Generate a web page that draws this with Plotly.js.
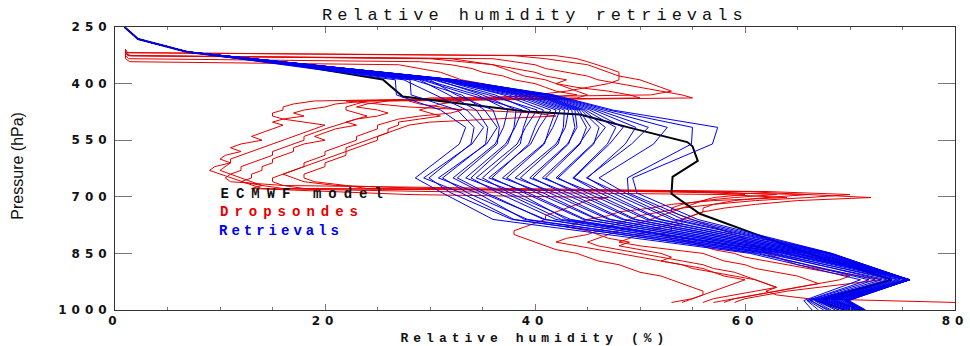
<!DOCTYPE html>
<html>
<head>
<meta charset="utf-8">
<script src="https://cdn.plot.ly/plotly-3.0.1.min.js"></script>
<style>
  html, body { margin: 0; padding: 0; background: #fff; }
  #chart { width: 970px; height: 346px; }
  .xtick text, .ytick text { letter-spacing: 5px; }
  g.annotation[data-index="0"] text { letter-spacing: 5px; }
  g.annotation[data-index="1"] text { letter-spacing: 5px; }
  g.annotation[data-index="2"] text { letter-spacing: 7px; }
  g.annotation[data-index="3"] text { letter-spacing: 6px; }
  g.annotation[data-index="4"] text { letter-spacing: 4px; }
  g.annotation[data-index="5"] text { letter-spacing: 0px; }
</style>
</head>
<body>
<div id="chart"></div>
<script>
// ---------- ECMWF model profile ----------
const ecmwfP  = [250, 282, 316, 350, 389, 434, 474, 482, 516, 555, 566, 605, 647, 692, 745, 810, 850, 920, 975, 1000];
const ecmwfRH = [0.9, 2.2, 6.9, 17.0, 25.5, 27.4, 39.2, 44.3, 48.9, 54.5, 55.0, 55.5, 53.1, 53.0, 55.7, 62.2, 66.0, 74.0, 67.0, 69.5];

// ---------- Retrieval pressure levels ----------
const retLevels = [250, 282, 316, 390, 430, 470, 516, 560, 650, 690, 760, 850, 920, 975, 1000];

// ---------- Retrieval profiles (RH %) ----------
const ret01 = [0.9, 2.2, 6.9, 26.7, 26.8, 31.0, 33.4, 32.8, 28.6, 31.2, 36.0, 60.5, 71.0, 65.6, 66.4];
const ret02 = [0.9, 2.2, 6.9, 28.1, 28.2, 32.6, 34.2, 33.9, 29.9, 32.0, 37.8, 61.4, 71.8, 65.9, 67.0];
const ret03 = [0.9, 2.2, 6.9, 27.5, 30.5, 33.5, 35.1, 34.0, 29.4, 33.0, 38.0, 61.0, 72.4, 66.0, 67.5];
const ret04 = [0.9, 2.2, 6.9, 29.0, 31.8, 34.4, 35.5, 35.3, 31.2, 33.6, 39.3, 62.4, 73.0, 66.3, 67.8];
const ret05 = [0.9, 2.2, 6.9, 28.4, 33.0, 35.2, 36.4, 35.4, 30.8, 34.5, 39.0, 62.0, 73.5, 66.6, 68.2];
const ret06 = [0.9, 2.2, 6.9, 30.0, 32.5, 36.0, 36.6, 36.4, 32.6, 35.4, 40.8, 63.0, 74.0, 66.2, 68.0];
const ret07 = [0.9, 2.2, 6.9, 29.5, 34.5, 37.4, 37.0, 36.2, 32.2, 35.0, 41.0, 62.6, 74.5, 66.8, 68.6];
const ret08 = [0.9, 2.2, 6.9, 30.6, 35.0, 38.2, 38.0, 37.4, 33.9, 36.5, 42.0, 63.5, 74.8, 67.0, 68.9];
const ret09 = [0.9, 2.2, 6.9, 29.2, 33.8, 38.8, 38.1, 37.2, 33.4, 37.2, 42.5, 63.8, 75.2, 66.7, 69.0];
const ret10 = [0.9, 2.2, 6.9, 31.0, 36.2, 39.5, 38.9, 38.6, 35.0, 37.6, 43.4, 64.2, 75.5, 67.2, 69.4];
const ret11 = [0.9, 2.2, 6.9, 30.3, 35.6, 40.2, 39.1, 38.3, 34.4, 38.4, 43.0, 63.9, 75.6, 67.4, 69.6];
const ret12 = [0.9, 2.2, 6.9, 31.4, 37.0, 40.8, 40.0, 39.4, 35.9, 39.0, 44.6, 64.6, 75.7, 67.0, 69.8];
const ret13 = [0.9, 2.2, 6.9, 30.8, 37.5, 41.5, 40.4, 39.6, 35.6, 39.4, 44.8, 64.8, 75.7, 67.5, 70.0];
const ret14 = [0.9, 2.2, 6.9, 31.2, 38.0, 42.0, 41.4, 40.9, 37.3, 40.2, 45.9, 65.2, 75.6, 67.6, 70.1];
const ret15 = [0.9, 2.2, 6.9, 31.6, 38.4, 42.4, 41.7, 40.8, 36.9, 40.8, 46.0, 65.0, 75.7, 67.8, 70.3];
const ret16 = [0.9, 2.2, 6.9, 31.0, 38.8, 42.8, 42.7, 42.2, 38.6, 41.4, 47.0, 65.6, 75.5, 67.7, 70.4];
const ret17 = [0.9, 2.2, 6.9, 31.8, 39.0, 43.2, 42.9, 42.0, 38.1, 42.0, 47.2, 65.7, 75.7, 68.0, 70.6];
const ret18 = [0.9, 2.2, 6.9, 31.5, 39.4, 43.5, 43.8, 43.2, 39.8, 42.6, 48.3, 66.1, 75.6, 68.2, 70.7];
const ret19 = [0.9, 2.2, 6.9, 32.0, 39.8, 43.8, 44.0, 43.1, 39.5, 43.2, 48.5, 66.3, 75.7, 68.3, 70.8];
const ret20 = [0.9, 2.2, 6.9, 31.9, 40.0, 44.0, 44.9, 44.3, 41.0, 43.8, 49.4, 66.6, 75.6, 68.5, 70.9];
const ret21 = [0.9, 2.2, 6.9, 32.1, 40.2, 44.2, 45.3, 44.2, 40.7, 44.4, 49.6, 66.7, 75.7, 68.6, 71.0];
const ret22 = [0.9, 2.2, 6.9, 31.7, 40.4, 44.4, 46.1, 45.6, 42.2, 45.0, 50.6, 67.0, 75.6, 68.8, 71.0];
const ret23 = [0.9, 2.2, 6.9, 32.2, 40.6, 44.6, 46.7, 45.5, 42.0, 45.6, 50.9, 67.1, 75.7, 69.0, 71.1];
const ret24 = [0.9, 2.2, 6.9, 32.0, 40.8, 44.8, 47.7, 46.9, 43.6, 46.2, 51.8, 67.4, 75.6, 69.2, 71.2];
const ret25 = [0.9, 2.2, 6.9, 32.3, 41.0, 45.2, 48.4, 47.1, 43.7, 46.8, 52.0, 67.6, 75.7, 69.4, 71.2];
const ret26 = [0.9, 2.2, 6.9, 32.0, 41.2, 45.6, 49.6, 48.6, 45.0, 47.4, 53.0, 67.8, 75.6, 69.5, 71.3];
const ret27 = [0.9, 2.2, 6.9, 32.4, 41.4, 46.0, 50.8, 49.2, 44.9, 48.0, 53.4, 68.0, 75.7, 69.6, 71.3];
const ret28 = [0.9, 2.2, 6.9, 32.2, 41.5, 46.5, 52.6, 51.3, 46.1, 48.6, 54.1, 68.1, 75.6, 69.7, 71.4];
const ret29 = [0.9, 2.2, 6.9, 32.5, 41.6, 47.0, 55.0, 54.9, 48.8, 48.9, 54.8, 68.2, 75.7, 69.8, 71.4];
const ret30 = [0.9, 2.2, 6.9, 32.4, 41.8, 47.4, 57.4, 56.9, 49.3, 49.7, 55.5, 68.3, 75.6, 69.9, 71.5];

// ---------- Dropsonde pressure grid (hPa) ----------
const sondeP = [310, 318, 326, 334, 342, 350, 360, 370, 380, 390, 400, 410, 420, 430,
  438, 446, 454, 462, 470, 478, 486, 494, 502, 510,
  520, 530, 540, 550, 560, 570, 580, 590, 600, 610, 620, 630, 640, 650, 660, 670,
  678, 686, 694, 702, 710,
  720, 730, 740, 750, 760, 770, 780, 790, 800, 810, 820, 830, 840, 850, 860, 870,
  880, 890, 900, 910, 920, 930, 940, 950, 960, 970, 980];

// ---------- Dropsonde RH profiles (%) ----------
const ds1RH = [1, 1, 1.2, 30, 33, 36,
  38, 40, 41, 43, 42, 44, 47, 49,
  50, 24, 21, 20, 18, 17, 18, 16, 15, 16,
  15, 14, 13, 14, 12, 11, 12, 10.5, 10, 11, 9.5, 9, 10, 11, 12, 13,
  14, 30, 58, 64, 57,
  53, 51, 48, 47, 45, 44, 43, 45, 46, 47, 49, 48, 50, 52, 53, 52,
  54, 56, 57, 58, 60, 59, 58, 57, 56, 55, 54];
const ds2RH = [1, 1, 1.5, 36, 38, 40,
  41, 43, 45, 46, 48, 50, 52, 54,
  55, 26, 24, 23, 25, 26, 25, 23, 22, 23,
  21, 20, 19, 20, 18, 17, 17, 16, 15, 15, 14, 14, 13, 13, 12, 14,
  16, 62, 70, 66, 61,
  57, 54, 52, 50, 49, 48, 47, 46, 45, 43, 42, 44, 46, 48, 50, 52,
  54, 55, 57, 59, 61, 62, 63, 61, 59, 57, 56];
const ds3RH = [1, 1, 1, 1.3, 29, 32,
  34, 35, 37, 38, 40, 41, 42, 44,
  40, 22, 25, 28, 34, 40, 42, 36, 30, 28,
  27, 26, 25, 24, 23, 22, 22, 21, 20, 19, 18, 17, 16, 17, 18, 21,
  30, 50, 66, 72, 65,
  61, 58, 56, 55, 54, 53, 52, 51, 50, 49, 48, 50, 53, 56, 57, 58,
  60, 61, 63, 65, 66, 67, 65, 63, 61, 59, 57];
const ds4RH = [1, 1.1, 42, 44, 45, 46,
  47, 48, 48, 50, 51, 52, 53, 51,
  30, 28, 29, 31, 33, 32, 29, 27, 26, 25,
  25, 24, 23, 23, 22, 21, 20, 20, 19, 18, 18, 17, 16, 15, 15, 16,
  18, 55, 60, 57, 56,
  55, 54, 53, 52, 51, 50, 49, 48, 47, 46, 45, 46, 48, 50, 52, 54,
  56, 57, 59, 60, 61, 62, 63, 62, 63, 66, 80];
const ds5RH = [1, 1, 1, 1, 1.4, 27,
  29, 31, 32, 33, 35, 37, 39, 40,
  36, 19, 17, 16, 16, 15, 15, 16, 18, 20,
  19, 18, 17, 16, 15, 14, 13, 12, 11, 11, 10.5, 10, 11, 12, 13, 14,
  13, 20, 28, 47, 45,
  44, 43, 42, 41, 41, 40, 39, 38, 38, 39, 40, 41, 42, 44, 45, 46,
  48, 49, 50, 52, 53, 54, 55, 56, 56, 55, 53];
const ds6RH = [1, 1.2, 38, 41, 43, 45,
  46, 47, 48, 48, 47, 45, 43, 40,
  36, 33, 31, 30, 29, 30, 31, 29, 27, 27,
  26, 26, 25, 25, 24, 23, 22, 22, 21, 20, 20, 19, 18, 18, 19, 22,
  24, 56, 63, 59, 56,
  54, 53, 53, 54, 55, 56, 57, 58, 59, 60, 60, 61, 62, 62, 63, 64,
  65, 67, 69, 71, 73, 70, 67, 64, 62, 60, 59];
const ds7RH = [1, 1, 1.3, 32, 34, 36,
  37, 38, 39, 41, 42, 43, 44, 45,
  44, 24, 23, 22, 22, 23, 24, 23, 22, 21,
  20, 19, 18, 18, 17, 16, 15, 15, 14, 13, 12, 12, 11, 10.5, 11, 16,
  40, 60, 66, 62, 59,
  57, 56, 56, 55, 54, 54, 53, 53, 52, 53, 55, 56, 57, 59, 60, 62,
  64, 66, 68, 70, 69, 67, 65, 63, 61, 59, 58];

// ---------- Axis ticks ----------
const xTicks = [0, 20, 40, 60, 80];
const yTicks = [250, 400, 550, 700, 850, 1000];

const RED = '#e60000', BLUE = '#0000f0', BLACK = '#000000';

const sondes = [ds1RH, ds2RH, ds3RH, ds4RH, ds5RH, ds6RH, ds7RH];
const retrievals = [ret01, ret02, ret03, ret04, ret05, ret06, ret07, ret08, ret09, ret10,
                    ret11, ret12, ret13, ret14, ret15, ret16, ret17, ret18, ret19, ret20,
                    ret21, ret22, ret23, ret24, ret25, ret26, ret27, ret28, ret29, ret30];

const traces = [];
sondes.forEach(rh => traces.push({type: 'scatter', mode: 'lines', x: rh, y: sondeP,
  line: {color: RED, width: 1}, hoverinfo: 'skip', showlegend: false}));
traces.push({type: 'scatter', mode: 'lines', x: ecmwfRH, y: ecmwfP,
  line: {color: BLACK, width: 2}, hoverinfo: 'skip', showlegend: false});
retrievals.forEach(r => traces.push({type: 'scatter', mode: 'lines', x: r, y: retLevels,
  line: {color: BLUE, width: 1}, hoverinfo: 'skip', showlegend: false}));

const tickFont = {family: 'DejaVu Sans', size: 12, color: '#111', weight: 'bold'};

const layout = {
  width: 970, height: 346,
  margin: {l: 115, r: 15, t: 27, b: 36},
  paper_bgcolor: '#fff', plot_bgcolor: '#fff',
  showlegend: false,
  xaxis: {
    range: [0, 80], tickvals: xTicks, ticktext: xTicks.map(String),
    ticks: 'inside', ticklen: 6, tickcolor: '#777', tickwidth: 1,
    showline: true, linecolor: '#333', linewidth: 1, mirror: 'ticks',
    showgrid: false, zeroline: false, tickfont: tickFont,
    minor: {ticks: 'inside', ticklen: 3, dtick: 5, tick0: 0, tickcolor: '#777', showgrid: false}
  },
  yaxis: {
    range: [1000, 250], tickvals: yTicks, ticktext: yTicks.map(String),
    ticks: 'inside', ticklen: 17, tickcolor: '#777', tickwidth: 1,
    showline: true, linecolor: '#333', linewidth: 1, mirror: 'ticks',
    showgrid: false, zeroline: false, tickfont: tickFont
  },
  annotations: [
    {text: 'Relative humidity retrievals', xref: 'paper', yref: 'paper', x: 0.5, y: 1.042,
     xanchor: 'center', yanchor: 'middle', showarrow: false,
     font: {family: 'Liberation Mono', size: 17, color: '#111'}},
    {text: 'Relative humidity (%)', xref: 'paper', yref: 'paper', x: 0.5, y: -0.1,
     xanchor: 'center', yanchor: 'middle', showarrow: false,
     font: {family: 'Liberation Mono', size: 13, color: '#111', weight: 'bold'}},
    {text: 'ECMWF model', xref: 'paper', yref: 'paper', x: 0.2262, y: 0.41,
     xanchor: 'center', yanchor: 'middle', showarrow: false,
     font: {family: 'Liberation Mono', size: 14, color: '#111', weight: 'bold'}},
    {text: 'Dropsondes', xref: 'paper', yref: 'paper', x: 0.2107, y: 0.346,
     xanchor: 'center', yanchor: 'middle', showarrow: false,
     font: {family: 'Liberation Mono', size: 14, color: RED, weight: 'bold'}},
    {text: 'Retrievals', xref: 'paper', yref: 'paper', x: 0.1976, y: 0.279,
     xanchor: 'center', yanchor: 'middle', showarrow: false,
     font: {family: 'Liberation Mono', size: 14, color: BLUE, weight: 'bold'}},
    {text: 'Pressure (hPa)', xref: 'paper', yref: 'paper', x: -0.1155, y: 0.51,
     xanchor: 'center', yanchor: 'middle', showarrow: false, textangle: -90,
     font: {family: 'Liberation Sans', size: 16, color: '#111'}}
  ]
};

Plotly.newPlot('chart', traces, layout, {staticPlot: true, displayModeBar: false});
</script>
</body>
</html>
